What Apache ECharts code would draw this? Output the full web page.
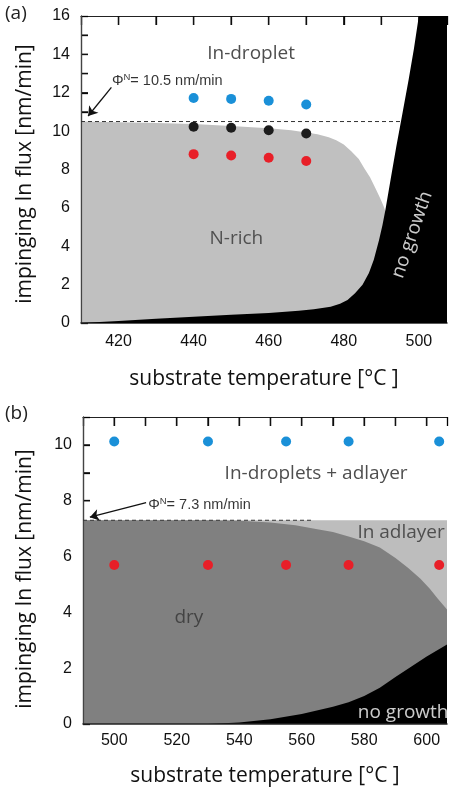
<!DOCTYPE html>
<html><head><meta charset="utf-8">
<script src="https://cdn.jsdelivr.net/npm/echarts@6/dist/echarts.min.js"></script>
<style>html,body{margin:0;padding:0;background:#fff}#c{width:450px;height:790px}</style>
</head><body><div id="c"></div>
<script>
// ---------- Panel (a) ----------
const aTemps = [440, 450, 460, 470];
const aBlue = [11.73, 11.68, 11.58, 11.39];
const aBlack = [10.23, 10.18, 10.05, 9.88];
const aRed = [8.80, 8.73, 8.61, 8.44];
const aFluxN = 10.5;
const aNRichTop = [[410,10.5],[420,10.46],[430,10.42],[440,10.37],[450,10.27],[460,10.15],[466,10.04],[470,9.93],[473,9.84],[476,9.68],[478,9.52],[480,9.3],[482,8.95],[484,8.55],[485.5,8.05],[487,7.6],[488.5,7.0],[489.7,6.5],[490.7,6.05],[491.3,5.7],[491.6,0]];
const aNoGrowthEdge = [[410,0],[420,0.1],[430,0.22],[440,0.33],[450,0.43],[460,0.52],[468,0.64],[472,0.72],[476.5,0.85],[479,1.0],[481,1.2],[483,1.55],[485,2.0],[486.7,2.6],[488,3.3],[489.4,4.33],[490.3,5.1],[491.1,5.9],[492.5,7.5],[494,9.2],[495.7,11],[497.3,12.7],[498.7,14.3],[500,16],[507.5,16]];
const aArrow = [[418.1, 12.28], [411.9, 10.79]];
const aXTicks = [420, 430, 440, 450, 460, 470, 480, 490, 500];
const aYTicks = [1, 2, 3, 4, 5, 6, 7, 8, 9, 10, 11, 12, 13, 14, 15];
// ---------- Panel (b) ----------
const bTemps = [500, 530, 555, 575, 604];
const bBlue = [10.12, 10.12, 10.12, 10.12, 10.12];
const bRed = [5.7, 5.7, 5.7, 5.7, 5.7];
const bFluxN = 7.3;
const bFluxNEnd = 563;
const bAdlayerTop = [[490,7.3],[606.5,7.3]];
const bDryTop = [[490,7.3],[530,7.3],[540,7.28],[550,7.22],[558,7.12],[565,6.98],[570,6.88],[575,6.72],[580,6.55],[585,6.32],[590,5.95],[594,5.6],[598,5.2],[601,4.85],[603.5,4.5],[606.5,4.1]];
const bNoGrowthEdge = [[490,0],[530,0],[540,0.05],[550,0.17],[560,0.36],[570,0.62],[575,0.78],[580,1.0],[585,1.3],[590,1.68],[595,2.05],[600,2.42],[606.5,2.85]];
const bArrow = [[510.2, 7.93], [492.2, 7.41]];
const bXTicks = [500, 510, 520, 530, 540, 550, 560, 570, 580, 590, 600];
const bYTicks = [1, 2, 3, 4, 5, 6, 7, 8, 9, 10];

const FONT = '"Open Sans", "Noto Sans", sans-serif';
const NUMFONT = '"Liberation Sans", Arial, sans-serif';
const chart = echarts.init(document.getElementById('c'), null, {renderer: 'canvas'});

function xBottom(grid, min, max, name, gap, margin) {
  return {gridIndex: grid, type: 'value', position: 'bottom', min, max, interval: 10, z: 5,
    axisLine: {show: true, onZero: false, lineStyle: {color: '#222', width: 1.5}},
    axisTick: {show: false}, splitLine: {show: false},
    axisLabel: {margin, fontFamily: NUMFONT, fontSize: 16, color: '#111',
      formatter: v => (v % 20 === 0 ? String(v) : '')},
    name, nameLocation: 'middle', nameGap: gap,
    nameTextStyle: {fontFamily: FONT, fontSize: 21, color: '#111'}};
}
function xTop(grid, min, max) {
  return {gridIndex: grid, type: 'value', position: 'top', min, max, interval: 10, z: 0,
    axisLine: {show: true, onZero: false, lineStyle: {color: '#222', width: 1.2}},
    axisTick: {show: true, inside: true, length: 9, lineStyle: {color: '#000', width: 1.3}},
    axisLabel: {show: false}, splitLine: {show: false}};
}
function yTicks(grid, max, name, gap, shift) {
  return {gridIndex: grid, type: 'value', position: 'left', min: 0, max, interval: 1, z: 0,
    axisLine: {show: true, onZero: false, lineStyle: {color: '#222', width: 1.2}},
    axisTick: {show: true, inside: true, length: 7, lineStyle: {color: '#000', width: 1.3}},
    axisLabel: {margin: 11, fontFamily: NUMFONT, fontSize: 16, color: '#111',
      formatter: v => (v % 2 === 0 ? String(v) : '')},
    splitLine: {show: false},
    name, nameLocation: 'middle', nameGap: gap,
    nameTextStyle: {fontFamily: FONT, fontSize: 21, color: '#111', padding: [0, shift, 0, 0]}};
}
function yLine(grid, max) {
  return {gridIndex: grid, type: 'value', position: 'left', min: 0, max, z: 5,
    axisLine: {show: true, onZero: false, lineStyle: {color: '#444', width: 1.2}},
    axisTick: {show: false}, axisLabel: {show: false}, splitLine: {show: false}};
}
// tick marks drawn through the axes' scales (custom series), below the filled regions
function ticks(xi, yi, xTicks, yTicksArr, xMin, yMax) {
  const data = xTicks.map(v => [v, yMax, 0]).concat(yTicksArr.map(v => [xMin, v, 1]));
  return {type: 'custom', xAxisIndex: xi, yAxisIndex: yi, z: 1, silent: true, clip: false,
    encode: {x: 0, y: 1}, data,
    renderItem: (params, api) => {
      const p = api.coord([api.value(0), api.value(1)]);
      const vertical = api.value(2) === 0;
      return {type: 'line', shape: vertical ? {x1: p[0], y1: p[1], x2: p[0], y2: p[1] + 9}
                                            : {x1: p[0], y1: p[1], x2: p[0] + 7, y2: p[1]},
        style: {stroke: '#111', lineWidth: 1.3}};
    }};
}
function area(xi, yi, data, color, z) {
  return {type: 'line', xAxisIndex: xi, yAxisIndex: yi, data, showSymbol: false, silent: true, z,
    lineStyle: {width: 0, color}, areaStyle: {color, opacity: 1, origin: 'start'}};
}
function dots(xi, yi, xs, ys, color) {
  return {type: 'scatter', xAxisIndex: xi, yAxisIndex: yi, symbolSize: 10, z: 8, silent: true,
    itemStyle: {color, opacity: 1}, data: xs.map((x, i) => [x, ys[i]])};
}
function text(xi, yi, pt, str, opts) {
  const o = Object.assign({position: 'inside', color: '#222', fontFamily: FONT, fontSize: 19}, opts || {});
  return {type: 'scatter', xAxisIndex: xi, yAxisIndex: yi, symbolSize: 1, z: 10, silent: true,
    itemStyle: {color: 'rgba(0,0,0,0)'}, data: [pt],
    label: Object.assign({show: true, formatter: str}, o)};
}
function dashed(xi, yi, x0, x1, y, arrow) {
  return {type: 'line', xAxisIndex: xi, yAxisIndex: yi, showSymbol: false, silent: true, z: 6,
    data: [[x0, y], [x1, y]], lineStyle: {color: '#333', width: 1, type: [4, 3]},
    markLine: {silent: true, symbol: ['none', 'arrow'], symbolSize: 9, animation: false,
      label: {show: false}, lineStyle: {color: '#111', width: 1.3, type: 'solid'},
      data: [[{coord: arrow[0]}, {coord: arrow[1]}]]}};
}
const phiRich = {
  p: {fontFamily: NUMFONT, fontSize: 14.5, color: '#000', lineHeight: 18},
  s: {fontFamily: NUMFONT, fontSize: 9.5, color: '#000', lineHeight: 18, verticalAlign: 'top', padding: [0, 0, 6, 0]}
};

chart.setOption({
  animation: false,
  grid: [
    {left: 81, top: 16, right: 0, height: 307},
    {left: 83, top: 417, right: 0, height: 307}
  ],
  xAxis: [
    xBottom(0, 410, 507.5, 'substrate temperature [°C ]', 46, 11),
    xTop(0, 410, 507.5),
    xBottom(1, 490, 606.5, 'substrate temperature [°C ]', 42, 9),
    xTop(1, 490, 606.5)
  ],
  yAxis: [
    yTicks(0, 16, 'impinging In flux [nm/min]', 45, 9),
    yLine(0, 16),
    yTicks(1, 11, 'impinging In flux [nm/min]', 47, 17),
    yLine(1, 11)
  ],
  graphic: [
    {type: 'text', left: 5, top: 4, style: {text: '(a)', font: '19px ' + FONT, fill: '#222'}},
    {type: 'text', left: 5, top: 404, style: {text: '(b)', font: '19px ' + FONT, fill: '#222'}}
  ],
  series: [
    // panel (a)
    ticks(0, 0, aXTicks, aYTicks, 410, 16),
    area(0, 0, aNRichTop, '#c0c0c0', 2),
    dashed(0, 0, 410, 507.5, aFluxN, aArrow),
    area(0, 0, aNoGrowthEdge, '#000000', 7),
    dots(0, 0, aTemps, aBlue, '#1a90d8'),
    dots(0, 0, aTemps, aBlack, '#1c1c1c'),
    dots(0, 0, aTemps, aRed, '#e81f28'),
    text(0, 0, [455.3, 14.05], 'In-droplet'),
    text(0, 0, [451.4, 4.38], 'N-rich', {color: '#333'}),
    text(0, 0, [498.2, 4.6], 'no growth', {color: '#fff', rotate: 71}),
    text(0, 0, [418.1, 12.6], '{p|Φ}{s|N}{p|= 10.5 nm/min}', {position: 'right', distance: 0, rich: phiRich}),
    // panel (b)
    ticks(2, 2, bXTicks, bYTicks, 490, 11),
    area(2, 2, bAdlayerTop, '#bdbdbd', 2),
    area(2, 2, bDryTop, '#808080', 3),
    area(2, 2, bNoGrowthEdge, '#000000', 4),
    dashed(2, 2, 490, bFluxNEnd, bFluxN, bArrow),
    dots(2, 2, bTemps, bBlue, '#1a90d8'),
    dots(2, 2, bTemps, bRed, '#e81f28'),
    text(2, 2, [564.6, 8.99], 'In-droplets + adlayer'),
    text(2, 2, [591.8, 6.86], 'In adlayer', {color: '#333'}),
    text(2, 2, [523.9, 3.82], 'dry', {color: '#333'}),
    text(2, 2, [577.8, 0.4], 'no growth', {color: '#fff', position: 'right', distance: 0}),
    text(2, 2, [510.7, 7.85], '{p|Φ}{s|N}{p|= 7.3 nm/min}', {position: 'right', distance: 0, rich: phiRich})
  ]
});
</script></body></html>
